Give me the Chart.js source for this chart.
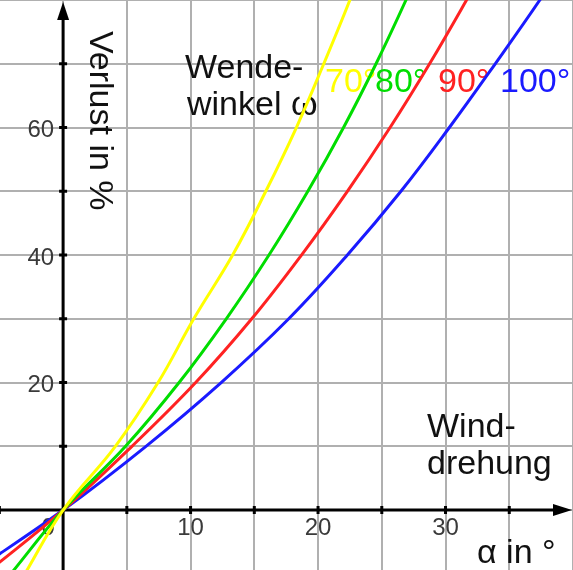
<!DOCTYPE html>
<html>
<head>
<meta charset="utf-8">
<script src="https://cdn.jsdelivr.net/npm/chart.js@4"></script>
<style>
  body { margin: 0; background: #fff; }
  #wrap { width: 573px; height: 570px; }
</style>
</head>
<body>
<div id="wrap"><canvas id="verlust"></canvas></div>
<script>
const verlustStufen = [-10, 0, 10, 20, 30, 40, 50, 60, 70, 80, 90];
// Winddrehung alpha in Grad (x), je Wendewinkel
const alpha70 = [-3, 0, 4.1, 7.45, 10.25, 13.3, 15.9, 18.3, 20.45, 22.5, 24.4];
const alpha80 = [-4.1, 0, 4.9, 9.1, 12.8, 16.15, 19.2, 22.0, 24.55, 26.9, 29.1];
const alpha90 = [-6.1, 0, 5.4, 10.4, 14.8, 18.7, 22.3, 25.65, 28.75, 31.65, 34.45];
const alpha100 = [-7.3, 0, 6.5, 12.4, 17.7, 22.3, 26.5, 30.3, 33.9, 37.4, 40.7];

const xTicks = [10, 20, 30];
const yTicks = [20, 40, 60];
const winkelLabels = ['70°', '80°', '90°', '100°'];

const FONT = '"Liberation Sans", Arial, sans-serif';
const colYellow = '#ffff00';
const colGreen = '#00dd00';
const colRed = '#ff2222';
const colBlue = '#1a1aff';

function pts(xa) {
  return xa.map(function (v, i) { return { x: v, y: verlustStufen[i] }; });
}

function serie(label, xa, color) {
  return {
    label: label,
    data: pts(xa),
    borderColor: color,
    backgroundColor: color,
    borderWidth: 3,
    pointRadius: 0,
    tension: 0.4,
    fill: false
  };
}

const beschriftung = {
  id: 'beschriftung',
  beforeDatasetsDraw: function (chart) {
    const c = chart.ctx;
    const xs = chart.scales.x, ys = chart.scales.y;
    const x0 = xs.getPixelForValue(0), y0 = ys.getPixelForValue(0);
    const left = chart.chartArea.left, right = chart.chartArea.right;
    const top = chart.chartArea.top, bottom = chart.chartArea.bottom;
    c.save();

    // Achsen
    c.strokeStyle = '#000';
    c.fillStyle = '#000';
    c.lineWidth = 3;
    c.beginPath();
    c.moveTo(left, y0); c.lineTo(right - 15, y0);
    c.moveTo(x0, bottom); c.lineTo(x0, top + 15);
    c.stroke();
    c.beginPath();
    c.moveTo(right - 1, y0); c.lineTo(right - 20, y0 - 6); c.lineTo(right - 20, y0 + 6);
    c.closePath(); c.fill();
    c.beginPath();
    c.moveTo(x0, top + 2); c.lineTo(x0 - 6, top + 20); c.lineTo(x0 + 6, top + 20);
    c.closePath(); c.fill();

    // Teilstriche
    c.lineWidth = 3;
    c.beginPath();
    for (let v = -5; v <= 35; v += 5) {
      if (v === 0) continue;
      const px = xs.getPixelForValue(v);
      c.moveTo(px, y0 - 4); c.lineTo(px, y0 + 4);
    }
    for (let v = 10; v <= 70; v += 10) {
      const py = ys.getPixelForValue(v);
      c.moveTo(x0 - 4, py); c.lineTo(x0 + 4, py);
    }
    c.stroke();

    // Zahlen an den Achsen
    c.fillStyle = '#3a3a3a';
    c.font = '24px ' + FONT;
    c.textBaseline = 'middle';
    c.textAlign = 'right';
    yTicks.forEach(function (v) { c.fillText(String(v), x0 - 9, ys.getPixelForValue(v) + 3); });
    c.textAlign = 'center';
    xTicks.forEach(function (v) { c.fillText(String(v), xs.getPixelForValue(v), y0 + 18); });
    c.fillText('0', x0 - 15, y0 + 18);

    // Texte
    c.fillStyle = '#111';
    c.font = '34px ' + FONT;
    c.textAlign = 'left';
    c.textBaseline = 'alphabetic';
    c.fillText('Wende-', 185, 78);
    c.fillText('winkel \u03c9', 187, 115);
    c.fillText('Wind-', 427, 437);
    c.fillText('drehung', 427, 474);
    c.fillText('\u03b1 in \u00b0', 477, 563);

    c.save();
    c.translate(90, 31);
    c.rotate(Math.PI / 2);
    c.fillText('Verlust in %', 0, 0);
    c.restore();

    const farben = [colYellow, colGreen, colRed, colBlue];
    const lx = [325, 375, 438, 500];
    winkelLabels.forEach(function (t, i) {
      c.fillStyle = farben[i];
      c.fillText(t, lx[i], 92);
    });
    c.restore();
  }
};

new Chart(document.getElementById('verlust'), {
  type: 'line',
  data: {
    datasets: [
      serie('70°', alpha70, colYellow),
      serie('80°', alpha80, colGreen),
      serie('90°', alpha90, colRed),
      serie('100°', alpha100, colBlue)
    ]
  },
  options: {
    responsive: true,
    maintainAspectRatio: false,
    animation: false,
    layout: { padding: 0 },
    plugins: { legend: { display: false }, tooltip: { enabled: false } },
    scales: {
      x: {
        type: 'linear',
        min: -4.95,
        max: 40,
        afterBuildTicks: function (s) {
          s.ticks = [];
          for (let v = -5; v <= 40; v += 5) s.ticks.push({ value: v });
        },
        ticks: { display: false },
        border: { display: false },
        grid: { color: '#b0b0b0', lineWidth: 2, drawTicks: false }
      },
      y: {
        type: 'linear',
        min: -9.4,
        max: 80,
        afterBuildTicks: function (s) {
          s.ticks = [];
          for (let v = 0; v <= 80; v += 10) s.ticks.push({ value: v });
        },
        ticks: { display: false },
        border: { display: false },
        grid: { color: '#b0b0b0', lineWidth: 2, drawTicks: false }
      }
    }
  },
  plugins: [beschriftung]
});
</script>
</body>
</html>
